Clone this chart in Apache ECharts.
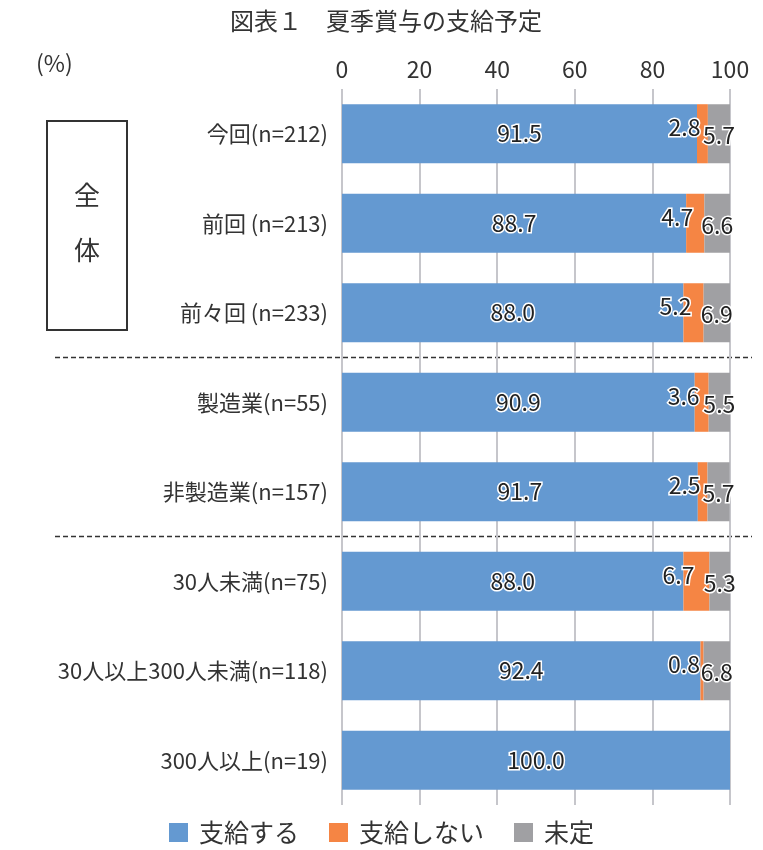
<!DOCTYPE html>
<html>
<head>
    <meta charset="utf-8">
    <title>夏季賞与の支給予定</title>
    <script src="https://cdn.jsdelivr.net/npm/echarts@6/dist/echarts.min.js"></script>
    <style>
        html, body { margin: 0; padding: 0; background: #fff; }
        #chart { width: 763px; height: 850px; }
    </style>
</head>
<body>
<div id="chart"></div>
<script>
    // データ
    var categories = ['今回(n=212)', '前回 (n=213)', '前々回 (n=233)', '製造業(n=55)', '非製造業(n=157)',
        '30人未満(n=75)', '30人以上300人未満(n=118)', '300人以上(n=19)'];
    var payValues = [91.5, 88.7, 88.0, 90.9, 91.7, 88.0, 92.4, 100.0];   // 支給する
    var noPayValues = [2.8, 4.7, 5.2, 3.6, 2.5, 6.7, 0.8, 0];           // 支給しない
    var undecidedValues = [5.7, 6.6, 6.9, 5.5, 5.7, 5.3, 6.8, 0];       // 未定
    var xTicks = [0, 20, 40, 60, 80, 100];

    var FONT = '"Noto Sans CJK JP", "Noto Sans", sans-serif';
    var gridTop = 89, gridHeight = 716, gridLeft = 342, gridWidth = 388;

    var chart = echarts.init(document.getElementById('chart'));

    function labelStyle(extra) {
        var base = {
            show: true,
            fontFamily: FONT,
            fontSize: 23,
            color: '#222',
            textBorderColor: '#fff',
            textBorderWidth: 3,
            formatter: function (p) {
                return p.value ? p.value.toFixed(1) : '';
            }
        };
        for (var k in extra) base[k] = extra[k];
        return base;
    }

    var band = gridHeight / categories.length;
    var sepY = [gridTop + band * 3, gridTop + band * 5];

    var option = {
        animation: false,
        textStyle: { fontFamily: FONT },
        title: {
            text: '図表１　夏季賞与の支給予定',
            left: 381,
            textAlign: 'center',
            top: 4,
            textStyle: { fontFamily: FONT, fontSize: 24, fontWeight: 'normal', color: '#333' }
        },
        grid: { left: gridLeft, top: gridTop, width: gridWidth, height: gridHeight },
        legend: {
            bottom: 0,
            left: 'center',
            itemWidth: 19,
            itemHeight: 19,
            itemGap: 30,
            icon: 'rect',
            textStyle: { fontFamily: FONT, fontSize: 25, color: '#333', padding: [0, 0, 0, 6] },
            data: ['支給する', '支給しない', '未定']
        },
        xAxis: {
            type: 'value',
            position: 'top',
            min: xTicks[0],
            max: xTicks[xTicks.length - 1],
            interval: 20,
            axisLine: { show: false },
            axisTick: { show: false },
            axisLabel: { fontFamily: FONT, fontSize: 23, color: '#333', margin: 8 },
            splitLine: { show: true, lineStyle: { color: '#c6c6cb', width: 2 } }
        },
        yAxis: {
            type: 'category',
            inverse: true,
            data: categories,
            axisLine: { show: false },
            axisTick: { show: false },
            axisLabel: { fontFamily: FONT, fontSize: 22, color: '#333', margin: 14 }
        },
        series: [
            {
                name: '支給する',
                type: 'bar',
                stack: 'total',
                barCategoryGap: '34%',
                itemStyle: { color: '#6499d1' },
                label: labelStyle({ position: 'inside' }),
                data: payValues
            },
            {
                name: '支給しない',
                type: 'bar',
                stack: 'total',
                itemStyle: { color: '#f58544' },
                label: labelStyle({ position: 'inside', offset: [-18, -6] }),
                data: noPayValues
            },
            {
                name: '未定',
                type: 'bar',
                stack: 'total',
                itemStyle: { color: '#a0a0a3' },
                label: labelStyle({ position: 'inside', offset: [0, 2] }),
                data: undecidedValues
            }
        ],
        graphic: [
            {
                type: 'text', left: 36, top: 52,
                style: { text: '(%)', font: '23px ' + FONT, fill: '#333' }
            },
            {
                type: 'rect', shape: { x: 47, y: 121, width: 80, height: 209 },
                style: { fill: 'none', stroke: '#333', lineWidth: 2 }
            },
            {
                type: 'text', x: 87, y: 195,
                style: { text: '全', font: '26px ' + FONT, fill: '#333', align: 'center', verticalAlign: 'middle' }
            },
            {
                type: 'text', x: 87, y: 250,
                style: { text: '体', font: '26px ' + FONT, fill: '#333', align: 'center', verticalAlign: 'middle' }
            },
            {
                type: 'line', shape: { x1: 55, y1: sepY[0], x2: 752, y2: sepY[0] },
                style: { stroke: '#333', lineWidth: 1.5, lineDash: [5, 3] }
            },
            {
                type: 'line', shape: { x1: 55, y1: sepY[1], x2: 752, y2: sepY[1] },
                style: { stroke: '#333', lineWidth: 1.5, lineDash: [5, 3] }
            }
        ]
    };

    chart.setOption(option);
</script>
</body>
</html>
